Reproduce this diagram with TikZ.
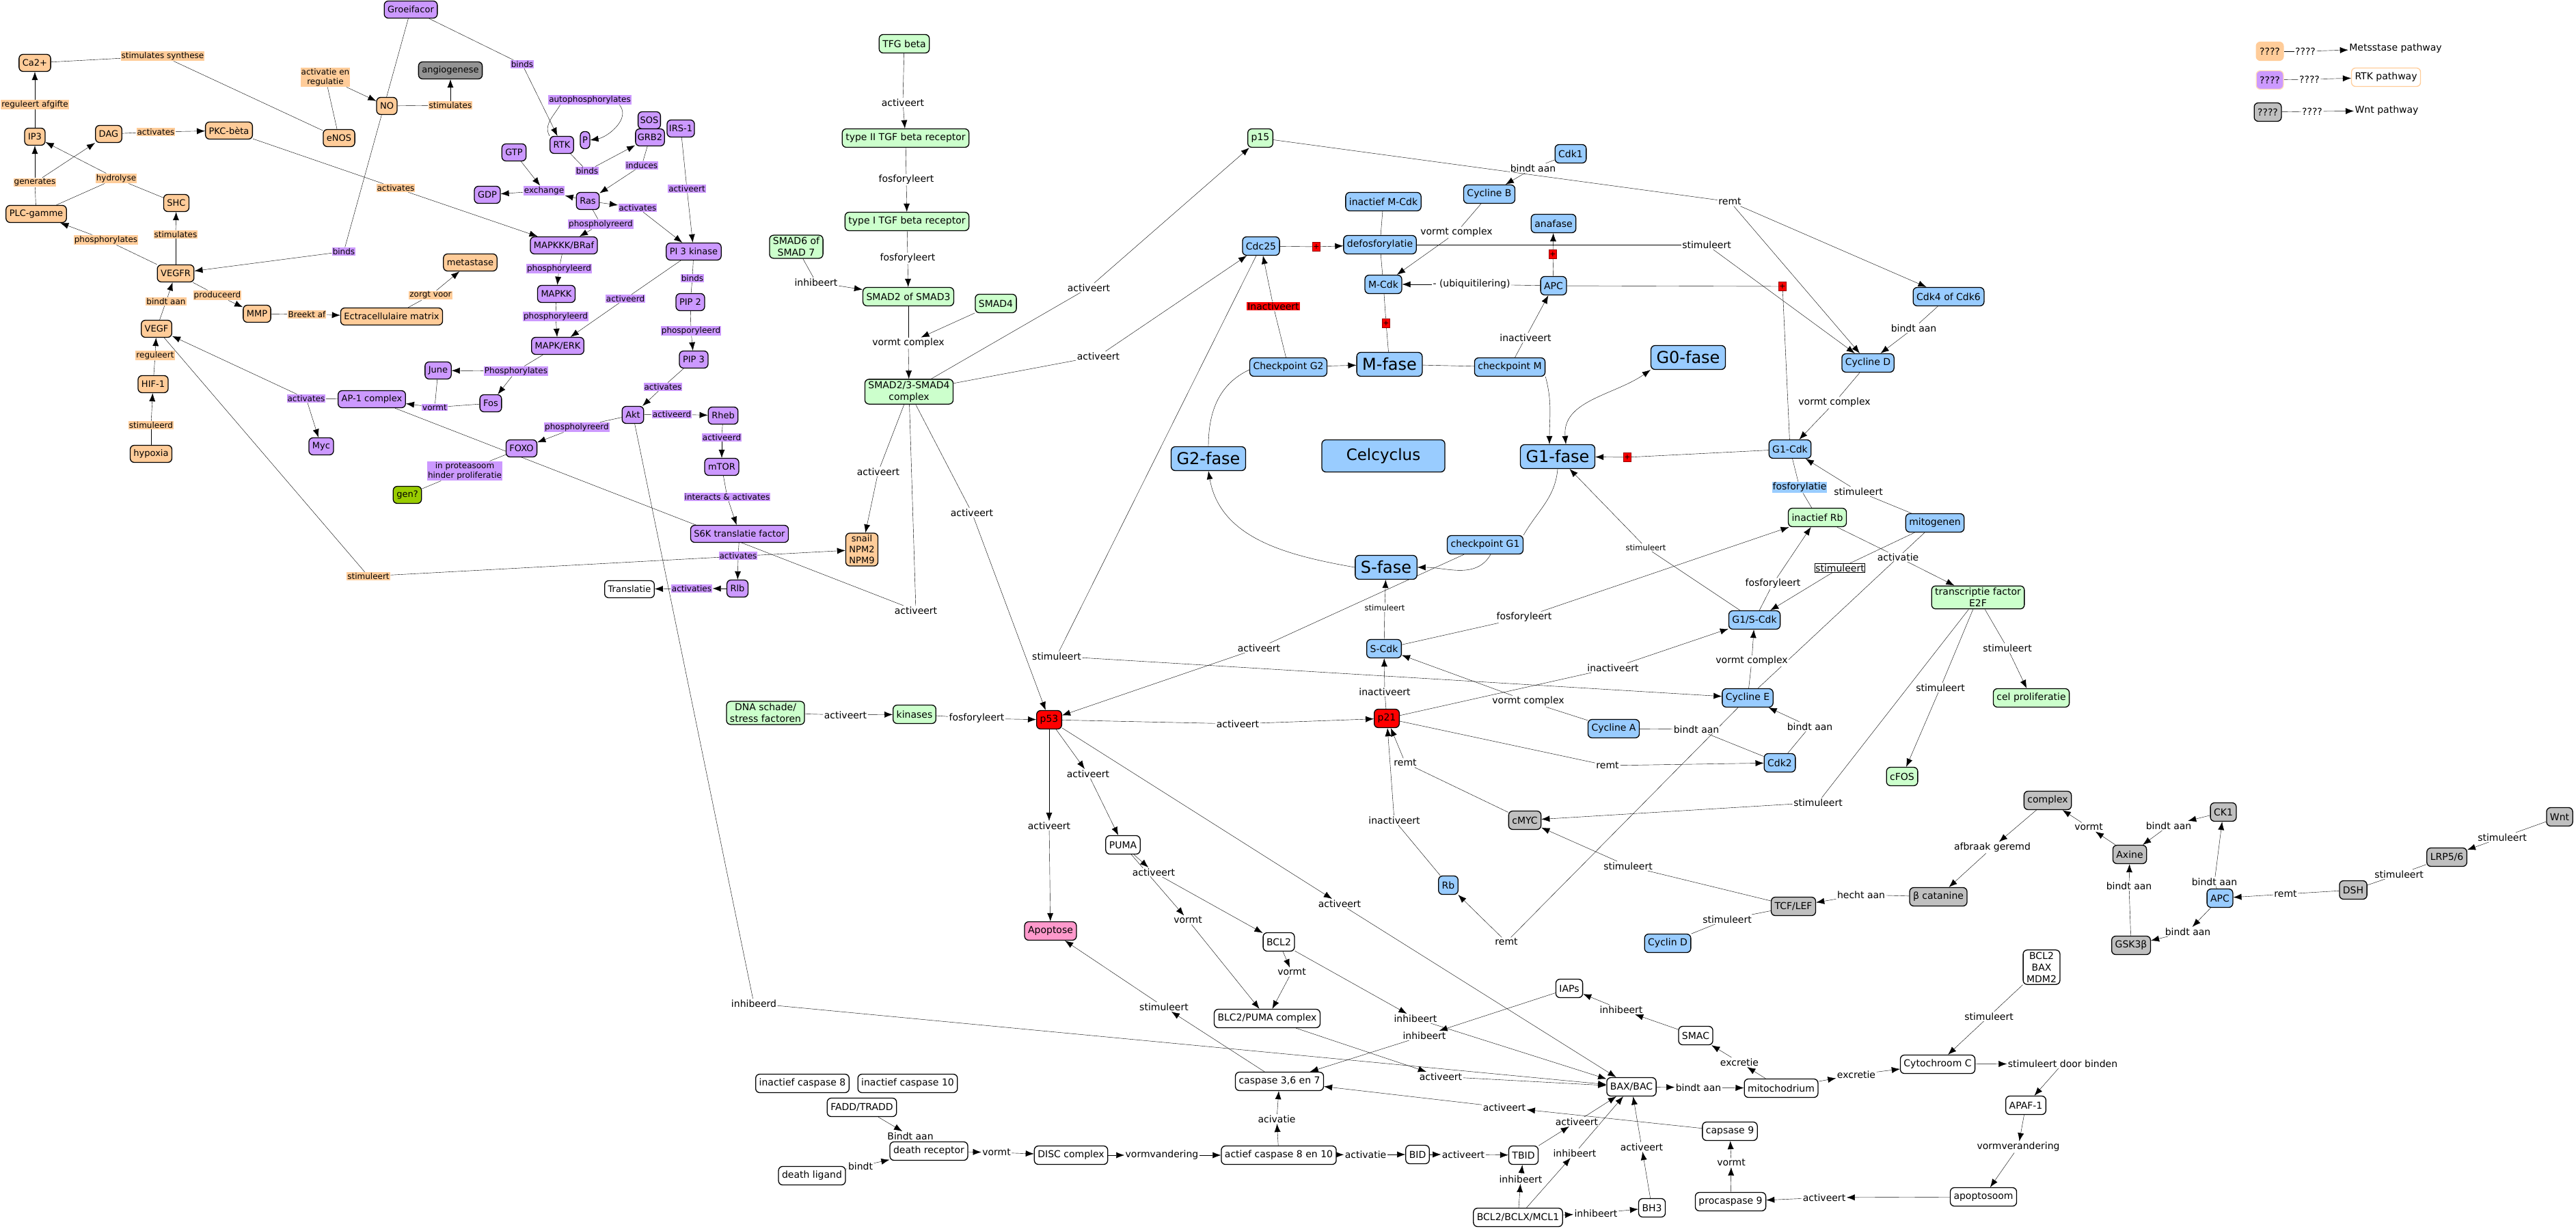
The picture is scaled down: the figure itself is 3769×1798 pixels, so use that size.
\documentclass[tikz,border=0pt]{standalone}
\usepackage{fontspec}
\setmainfont{DejaVu Sans}
\usetikzlibrary{arrows.meta}
\definecolor{corange}{HTML}{FFCC99}
\definecolor{cpurple}{HTML}{CC99FF}
\definecolor{cgreen}{HTML}{CCFFCC}
\definecolor{cblue}{HTML}{99CCFF}
\definecolor{cgray}{HTML}{C0C0C0}
\definecolor{cdgray}{HTML}{939393}
\definecolor{cpink}{HTML}{FF99CC}
\definecolor{colive}{HTML}{99CC00}
\pgfdeclarelayer{background}
\pgfsetlayers{background,main}
\tikzset{cbox/.style={draw, rounded corners=6pt, inner xsep=5pt, inner ysep=3pt, align=center},
  nA/.style={cbox, minimum height=25pt, font=\fontsize{13}{16}\selectfont},
  nB/.style={cbox, minimum height=27pt, font=\fontsize{14}{17}\selectfont},
  orn/.style={nA, fill=corange}, prp/.style={nA, fill=cpurple},
  grn/.style={nB, fill=cgreen}, blu/.style={nB, fill=cblue}, gry/.style={nB, fill=cgray},
  rdn/.style={nB, fill=red}, wht/.style={nB, fill=white}, pnk/.style={nB, fill=cpink},
  fase/.style={cbox, fill=cblue, inner xsep=8pt, minimum height=35pt, font=\fontsize{24}{28}\selectfont}}
\tikzset{lbl/.style={fill=white, inner sep=1pt, align=center, font=\fontsize{14}{16}\selectfont},
  slbl/.style={lbl, font=\fontsize{11.5}{13}\selectfont},
  olbl/.style={fill=corange, inner sep=1pt, align=center, font=\fontsize{12}{14}\selectfont},
  plbl/.style={olbl, fill=cpurple},
  pls/.style={fill=red, draw=red!60!black, line width=0.5pt, inner sep=0pt, minimum width=11pt, minimum height=13pt, font=\fontsize{11}{11}\selectfont},
  arr/.style={-{Latex[length=12pt,width=9pt]}}}
\begin{document}
\begin{tikzpicture}[x=1pt,y=-1pt,line width=1.3pt]
  \useasboundingbox (0,0) rectangle (3769,1798);
  \node[prp] (gf) at (601,14) {Groeifacor};
  \node[orn] (ca) at (51,92) {Ca2+};
  \node[nA,fill=cdgray] (ang) at (659,103) {angiogenese};
  \node[orn] (no) at (566,155) {NO};
  \node[orn] (enos) at (496,202) {eNOS};
  \node[orn] (ip3) at (51,200) {IP3};
  \node[orn] (dag) at (159,196) {DAG};
  \node[orn] (pkc) at (335,191) {PKC-bèta};
  \node[orn] (shc) at (258,297) {SHC};
  \node[orn] (plc) at (53,313) {PLC-gamme};
  \node[orn] (vegfr) at (257,400) {VEGFR};
  \node[orn] (meta) at (688,384) {metastase};
  \node[orn] (mmp) at (376,459) {MMP};
  \node[orn] (ecm) at (573,463) {Ectracellulaire matrix};
  \node[orn] (vegf) at (229,481) {VEGF};
  \node[orn] (hif) at (224,562) {HIF-1};
  \node[orn] (hyp) at (221,664) {hypoxia};
  \node[orn] (snail) at (1261,804) {snail\\NPM2\\NPM9};
  \node[olbl] (l1) at (238,82) {stimulates synthese};
  \node[olbl] (l2) at (476,113) {activatie en\\regulatie};
  \node[olbl] (l3) at (659,154) {stimulates};
  \node[olbl] (l4) at (51,153) {reguleert afgifte};
  \node[olbl] (l5) at (228,193) {activates};
  \node[olbl] (l6) at (51,267) {generates};
  \node[olbl] (l7) at (170,261) {hydrolyse};
  \node[olbl] (l8) at (579,275) {activates};
  \node[olbl] (l9) at (155,351) {phosphorylates};
  \node[olbl] (l10) at (257,343) {stimulates};
  \node[olbl] (l11) at (318,432) {produceerd};
  \node[olbl] (l12) at (243,441) {bindt aan};
  \node[olbl] (l13) at (630,432) {zorgt voor};
  \node[olbl] (l14) at (449,460) {Breekt af};
  \node[olbl] (l15) at (227,520) {reguleert};
  \node[olbl] (l16) at (221,622) {stimuleerd};
  \node[olbl] (l17) at (539,843) {stimuleert};

  \node[prp] (rtk) at (822,212) {RTK};
  \node[prp,inner xsep=3pt] (p) at (856,205) {P};
  \node[prp] (gtp) at (752,223) {GTP};
  \node[prp] (gdp) at (713,285) {GDP};
  \node[prp] (ras) at (860,294) {Ras};
  \node[prp,inner xsep=3pt] (sos) at (950,176) {SOS};
  \node[prp,inner xsep=3pt] (grb) at (951,201) {GRB2};
  \node[prp,inner xsep=3pt] (irs) at (996,188) {IRS-1};
  \node[prp] (pi3k) at (1015,368) {PI 3 kinase};
  \node[prp] (mapkkk) at (825,359) {MAPKKK/BRaf};
  \node[prp] (mapkk) at (814,430) {MAPKK};
  \node[prp] (pip2) at (1010,442) {PIP 2};
  \node[prp] (mapk) at (816,506) {MAPK/ERK};
  \node[prp] (pip3) at (1015,526) {PIP 3};
  \node[prp] (june) at (641,542) {June};
  \node[prp] (ap1) at (544,584) {AP-1 complex};
  \node[prp] (fos) at (718,590) {Fos};
  \node[prp] (akt) at (926,607) {Akt};
  \node[prp] (rheb) at (1058,608) {Rheb};
  \node[prp] (myc) at (470,653) {Myc};
  \node[prp] (foxo) at (763,656) {FOXO};
  \node[prp] (mtor) at (1056,683) {mTOR};
  \node[prp] (s6k) at (1082,781) {S6K translatie factor};
  \node[prp] (rlb) at (1079,861) {Rlb};
  \node[nA,fill=colive] (gen) at (596,724) {gen?};
  \node[nA,fill=white] (transl) at (921,862) {Translatie};
  \node[plbl] (m1) at (764,94) {binds};
  \node[plbl] (m2) at (863,146) {autophosphorylates};
  \node[plbl] (m3) at (859,250) {binds};
  \node[plbl] (m4) at (796,279) {exchange};
  \node[plbl] (m5) at (939,242) {induces};
  \node[plbl] (m6) at (933,304) {activates};
  \node[plbl] (m7) at (879,328) {phospholyreerd};
  \node[plbl] (m8) at (503,368) {binds};
  \node[plbl] (m9) at (818,393) {phosphoryleerd};
  \node[plbl] (m10) at (915,437) {activeerd};
  \node[plbl] (m11) at (1005,276) {activeert};
  \node[plbl] (m12) at (1013,407) {binds};
  \node[plbl] (m13) at (813,463) {phosphoryleerd};
  \node[plbl] (m14) at (1011,484) {phosporyleerd};
  \node[plbl] (m15) at (755,543) {Phosphorylates};
  \node[plbl] (m16) at (970,566) {activates};
  \node[plbl] (m17) at (448,583) {activates};
  \node[plbl] (m18) at (636,596) {vormt};
  \node[plbl] (m19) at (983,606) {activeerd};
  \node[plbl] (m20) at (844,625) {phospholyreerd};
  \node[plbl] (m21) at (1056,640) {activeerd};
  \node[plbl] (m22) at (680,689) {in proteasoom\\hinder proliferatie};
  \node[plbl] (m23) at (1064,727) {interacts \& activates};
  \node[plbl] (m24) at (1080,813) {activates};
  \node[plbl] (m25) at (1012,861) {activaties};

  \node[grn] (tfg) at (1323,64) {TFG beta};
  \node[grn] (t2) at (1325,202) {type II TGF beta receptor};
  \node[grn] (t1) at (1327,324) {type I TGF beta receptor};
  \node[grn] (smad67) at (1165,361) {SMAD6 of\\SMAD 7};
  \node[grn] (smad23) at (1329,434) {SMAD2 of SMAD3};
  \node[grn] (smad4) at (1457,444) {SMAD4};
  \node[grn] (smadc) at (1330,573) {SMAD2/3-SMAD4\\complex};
  \node[grn] (p15) at (1844,202) {p15};
  \node[grn] (dna) at (1120,1043) {DNA schade/\\stress factoren};
  \node[grn] (kin) at (1338,1045) {kinases};
  \node[grn] (rbi) at (2659,757) {inactief Rb};
  \node[grn] (e2f) at (2894,874) {transcriptie factor\\E2F};
  \node[grn] (celp) at (2972,1021) {cel proliferatie};
  \node[grn] (cfos) at (2783,1136) {cFOS};
  \node[lbl] (tl1) at (1321,150) {activeert};
  \node[lbl] (tl2) at (1326,263) {fosforyleert};
  \node[lbl] (tl3) at (1328,378) {fosforyleert};
  \node[lbl] (tl4) at (1194,413) {inhibeert};
  \node[lbl] (tl5) at (1329,502) {vormt complex};
  \node[lbl] (tl6) at (1593,421) {activeert};
  \node[lbl] (tl7) at (1607,521) {activeert};
  \node[lbl] (tl8) at (1285,690) {activeert};
  \node[lbl] (tl9) at (1422,750) {activeert};
  \node[lbl] (tl10) at (1340,893) {activeert};

  \node[blu] (cdk1) at (2298,225) {Cdk1};
  \node[blu] (cycb) at (2179,284) {Cycline B};
  \node[blu] (imcdk) at (2024,295) {inactief M-Cdk};
  \node[blu] (anaf) at (2273,327) {anafase};
  \node[blu] (cdc25) at (1845,360) {Cdc25};
  \node[blu] (defos) at (2019,358) {defosforylatie};
  \node[blu] (mcdk) at (2024,416) {M-Cdk};
  \node[blu] (apc) at (2273,418) {APC};
  \node[blu] (cdk46) at (2851,434) {Cdk4 of Cdk6};
  \node[blu] (cpg2) at (1885,537) {Checkpoint G2};
  \node[fase] (fm) at (2033,533) {M-fase};
  \node[blu] (cpm) at (2209,537) {checkpoint M};
  \node[fase] (fg0) at (2470,523) {G0-fase};
  \node[blu] (cycd) at (2733,531) {Cycline D};
  \node[blu] (g1cdk) at (2619,657) {G1-Cdk};
  \node[fase] (fg2) at (1768,671) {G2-fase};
  \node[fase,minimum width=180pt,minimum height=47pt,font=\fontsize{23}{27}\selectfont] (celc) at (2024,667) {Celcyclus};
  \node[fase] (fg1) at (2279,668) {G1-fase};
  \node[blu] (mitog) at (2831,765) {mitogenen};
  \node[blu] (cpg1) at (2173,797) {checkpoint G1};
  \node[fase] (fs) at (2028,830) {S-fase};
  \node[blu] (g1s) at (2567,907) {G1/S-Cdk};
  \node[blu] (scdk) at (2025,949) {S-Cdk};
  \node[blu] (cyce) at (2557,1021) {Cycline E};
  \node[blu] (cyca) at (2361,1066) {Cycline A};
  \node[blu] (cdk2) at (2604,1116) {Cdk2};
  \node[blu] (rb) at (2119,1295) {Rb};
  \node[blu] (cycd2) at (2440,1380) {Cyclin D};
  \node[rdn] (p53) at (1535,1053) {p53};
  \node[rdn] (p21) at (2029,1051) {p21};
  \node[gry] (cmyc) at (2231,1200) {cMYC};
  \node[gry] (tcf) at (2624,1326) {TCF/LEF};
  \node[lbl] (c1) at (2243,246) {bindt aan};
  \node[lbl] (c2) at (2531,295) {remt};
  \node[lbl] (c3) at (2131,340) {vormt complex};
  \node[lbl] (c4) at (2497,358) {stimuleert};
  \node[lbl] (c5) at (2153,416) {- (ubiquitilering)};
  \node[lbl] (c6) at (2232,494) {inactiveert};
  \node[lbl] (c7) at (2800,480) {bindt aan};
  \node[lbl] (c8) at (2684,589) {vormt complex};
  \node[lbl] (c9) at (2719,719) {stimuleert};
  \node[lbl] (c10) at (2777,815) {activatie};
  \node[lbl] (c11) at (2594,854) {fosforyleert};
  \node[slbl] (c12) at (2408,801) {stimuleert};
  \node[slbl] (c13) at (2026,889) {stimuleert};
  \node[lbl] (c14) at (2230,903) {fosforyleert};
  \node[lbl] (c15) at (1842,948) {activeert};
  \node[lbl] (c16) at (1546,960) {stimuleert};
  \node[lbl] (c17) at (2360,977) {inactiveert};
  \node[lbl] (c18) at (2563,967) {vormt complex};
  \node[lbl] (c19) at (2026,1012) {inactiveert};
  \node[lbl] (c20) at (2236,1026) {vormt complex};
  \node[lbl] (c21) at (2482,1067) {bindt aan};
  \node[lbl] (c22) at (2648,1063) {bindt aan};
  \node[lbl] (c23) at (1811,1059) {activeert};
  \node[lbl] (c24) at (2056,1116) {remt};
  \node[lbl] (c25) at (2352,1120) {remt};
  \node[lbl] (c26) at (2937,948) {stimuleert};
  \node[lbl] (c27) at (2839,1006) {stimuleert};
  \node[lbl] (c28) at (2660,1174) {stimuleert};
  \node[lbl] (c29) at (2040,1200) {inactiveert};
  \node[lbl] (c30) at (2382,1267) {stimuleert};
  \node[lbl] (c31) at (2204,1378) {remt};
  \node[lbl] (c32) at (2527,1345) {stimuleert};
  \node[lbl,fill=red] (ri) at (1863,448) {Inactiveert};
  \node[lbl,fill=cblue] (bf) at (2633,713) {fosforylatie};
  \node[lbl,draw,line width=0.8pt] (bs) at (2692,831) {stimuleert};
  \node[pls] (q1) at (1926,361) {+};
  \node[pls] (q2) at (2028,473) {+};
  \node[pls] (q3) at (2272,372) {+};
  \node[pls] (q4) at (2608,419) {+};
  \node[pls] (q5) at (2381,669) {+};

  \node[gry] (cplx) at (2996,1171) {complex};
  \node[gry] (ck1) at (3253,1188) {CK1};
  \node[gry] (axine) at (3116,1250) {Axine};
  \node[gry] (wnt) at (3745,1195) {Wnt};
  \node[gry] (lrp) at (3580,1254) {LRP5/6};
  \node[gry] (dsh) at (3443,1302) {DSH};
  \node[gry] (bcat) at (2836,1312) {β catanine};
  \node[gry] (gsk) at (3118,1383) {GSK3β};
  \node[blu] (apcw) at (3248,1314) {APC};
  \node[lbl] (w1) at (2915,1240) {afbraak geremd};
  \node[lbl] (w2) at (3056,1210) {vormt};
  \node[lbl] (w3) at (3173,1208) {bindt aan};
  \node[lbl] (w4) at (3661,1225) {stimuleert};
  \node[lbl] (w5) at (3510,1279) {stimuleert};
  \node[lbl] (w6) at (3115,1296) {bindt aan};
  \node[lbl] (w7) at (3240,1290) {bindt aan};
  \node[lbl] (w8) at (2723,1309) {hecht aan};
  \node[lbl] (w9) at (3344,1308) {remt};
  \node[lbl] (w10) at (3201,1363) {bindt aan};

  \node[pnk] (apopt) at (1537,1362) {Apoptose};
  \node[wht] (puma) at (1643,1236) {PUMA};
  \node[wht] (bcl2) at (1871,1378) {BCL2};
  \node[wht] (bpc) at (1854,1490) {BLC2/PUMA complex};
  \node[wht] (iaps) at (2296,1446) {IAPs};
  \node[wht] (smac) at (2481,1515) {SMAC};
  \node[wht] (casp3) at (1872,1582) {caspase 3,6 en 7};
  \node[wht] (ic8) at (1174,1585) {inactief caspase 8};
  \node[wht] (ic10) at (1328,1585) {inactief caspase 10};
  \node[wht] (fadd) at (1261,1620) {FADD/TRADD};
  \node[wht] (baxbac) at (2387,1590) {BAX/BAC};
  \node[wht] (mito) at (2606,1592) {mitochodrium};
  \node[wht] (cytc) at (2835,1557) {Cytochroom C};
  \node[wht] (bbm) at (2987,1415) {BCL2\\BAX\\MDM2};
  \node[wht] (apaf) at (2964,1617) {APAF-1};
  \node[wht] (casp9) at (2531,1655) {capsase 9};
  \node[wht] (drec) at (1359,1684) {death receptor};
  \node[wht] (disc) at (1567,1690) {DISC complex};
  \node[wht] (ac810) at (1871,1690) {actief caspase 8 en 10};
  \node[wht] (bid) at (2074,1689) {BID};
  \node[wht] (tbid) at (2229,1690) {TBID};
  \node[wht] (dlig) at (1188,1720) {death ligand};
  \node[wht] (apos) at (2902,1751) {apoptosoom};
  \node[wht] (proc9) at (2532,1758) {procaspase 9};
  \node[wht] (bh3) at (2417,1767) {BH3};
  \node[wht] (bclx) at (2221,1781) {BCL2/BCLX/MCL1};
  \node[lbl] (a1) at (1237,1046) {activeert};
  \node[lbl] (a2) at (1429,1051) {fosforyleert};
  \node[lbl] (a3) at (1592,1132) {activeert};
  \node[lbl] (a4) at (1535,1208) {activeert};
  \node[lbl] (a5) at (1688,1276) {activeert};
  \node[lbl] (a6) at (1960,1322) {activeert};
  \node[lbl] (a7) at (1738,1346) {vormt};
  \node[lbl] (a8) at (1890,1422) {vormt};
  \node[lbl] (a9) at (1103,1468) {inhibeerd};
  \node[lbl] (a10) at (1703,1473) {stimuleert};
  \node[lbl] (a11) at (2071,1490) {inhibeert};
  \node[lbl] (a12) at (2084,1515) {inhibeert};
  \node[lbl] (a13) at (2372,1477) {inhibeert};
  \node[lbl] (a14) at (2545,1554) {excretie};
  \node[lbl] (a15) at (2108,1575) {activeert};
  \node[lbl] (a16) at (2485,1591) {bindt aan};
  \node[lbl] (a17) at (2716,1572) {excretie};
  \node[lbl] (a18) at (2910,1487) {stimuleert};
  \node[lbl] (a19) at (3018,1556) {stimuleert door binden};
  \node[lbl] (a20) at (2201,1620) {activeert};
  \node[lbl] (a21) at (1868,1637) {acivatie};
  \node[lbl] (a22) at (2307,1641) {activeert};
  \node[lbl] (a23) at (2953,1678) {vormverandering};
  \node[lbl] (a24) at (2402,1678) {activeert};
  \node[lbl] (a25) at (1332,1662) {Bindt aan};
  \node[lbl] (a26) at (1458,1686) {vormt};
  \node[lbl] (a27) at (1700,1690) {vormvandering};
  \node[lbl] (a28) at (1998,1689) {activatie};
  \node[lbl] (a29) at (2141,1689) {activeert};
  \node[lbl] (a30) at (2304,1687) {inhibeert};
  \node[lbl] (a31) at (2533,1701) {vormt};
  \node[lbl] (a32) at (2225,1725) {inhibeert};
  \node[lbl] (a33) at (2669,1752) {activeert};
  \node[lbl] (a34) at (2335,1775) {inhibeert};
  \node[lbl] (a35) at (1259,1706) {bindt};

  \node[nB,fill=corange,draw=corange] (lg1) at (3321,75) {????};
  \node[nB,fill=cpurple,draw=corange!70] (lg2) at (3321,117) {????};
  \node[gry] (lg3) at (3318,164) {????};
  \node[lbl] (lgl1) at (3373,75) {????};
  \node[lbl] (lgl2) at (3379,116) {????};
  \node[lbl] (lgl3) at (3383,163) {????};
  \node[lbl] (lgt1) at (3505,71) {Metsstase pathway};
  \node[nB,fill=white,draw=corange] (lgt2) at (3491,113) {RTK pathway};
  \node[lbl] (lgt3) at (3492,162) {Wnt pathway};

  \begin{pgfonlayer}{background}
  \draw (ip3) edge (l4) (l4) edge[arr] (ca)
  (ca) edge (l1) (l1) edge (enos)
  (enos) edge (l2) (l2) edge[arr] (no)
  (no) edge (l3) (l3) edge[arr] (ang)
  (gf) edge (m8) (m8) edge[arr] (vegfr)
  (gf) edge (m1) (m1) edge[arr] (rtk)
  (dag) edge (l5) (l5) edge[arr] (pkc)
  (plc) edge (l6) (l6) edge[arr] (ip3) (l6) edge[arr] (dag)
  (plc) edge (l7) (shc) edge (l7) (l7) edge[arr] (ip3)
  (vegfr) edge (l10) (l10) edge[arr] (shc)
  (vegfr) edge (l9) (l9) edge[arr] (plc)
  (pkc) edge (l8) (l8) edge[arr] (mapkkk)
  (vegf) edge (l12) (l12) edge[arr] (vegfr)
  (vegfr) edge (l11) (l11) edge[arr] (mmp)
  (mmp) edge (l14) (l14) edge[arr] (ecm)
  (ecm) edge (l13) (l13) edge[arr] (meta)
  (hif) edge (l15) (l15) edge[arr] (vegf)
  (hyp) edge (l16) (l16) edge[arr] (hif)
  (vegf) edge (l17) (l17) edge[arr] (snail);
  \draw (rtk.north west) to[out=120,in=-120] ([xshift=18pt]m2.south west);
  \draw[arr] ([xshift=-18pt]m2.south east) to[out=-50,in=10] (p.east);
  \draw (rtk) edge (m3) (m3) edge[arr] (grb)
  (gtp) edge[arr] (m4) (ras) edge[arr] (m4) (m4) edge[arr] (gdp)
  (grb) edge (m5) (m5) edge[arr] (ras)
  (ras) edge[arr] (m6) (m6) edge[arr] (pi3k)
  (ras) edge (m7) (m7) edge[arr] (mapkkk)
  (mapkkk) edge (m9) (m9) edge[arr] (mapkk)
  (mapkk) edge (m13) (m13) edge[arr] (mapk)
  (pi3k) edge (m10) (m10) edge[arr] (mapk)
  (irs) edge (m11) (m11) edge[arr] (pi3k)
  (pi3k) edge (m12) (m12) edge (pip2)
  (pip2) edge (m14) (m14) edge[arr] (pip3)
  (pip3) edge (m16) (m16) edge[arr] (akt)
  (mapk) edge (m15) (m15) edge[arr] (june) (m15) edge[arr] (fos)
  (june) edge (m18) (fos) edge (m18) (m18) edge[arr] (ap1)
  (ap1) edge (m17) (m17) edge[arr] (vegf) (m17) edge[arr] (myc)
  (akt) edge (m19) (m19) edge[arr] (rheb)
  (akt) edge (m20) (m20) edge[arr] (foxo)
  (foxo) edge (m22) (m22) edge (gen)
  (rheb) edge (m21) (m21) edge[arr] (mtor)
  (mtor) edge (m23) (m23) edge[arr] (s6k)
  (s6k) edge (m24) (m24) edge[arr] (rlb)
  (rlb) edge[arr] (m25) (m25) edge[arr] (transl)
  (akt) edge (a9) (a9) edge[arr] (baxbac)
  (ap1) edge (tl10) (smadc) edge (tl10);
  \draw (tfg) edge (tl1) (tl1) edge[arr] (t2)
  (t2) edge (tl2) (tl2) edge[arr] (t1)
  (t1) edge (tl3) (tl3) edge[arr] (smad23)
  (smad67) edge (tl4) (tl4) edge[arr] (smad23)
  (smad23) edge (tl5) (smad4) edge[arr] (tl5) (tl5) edge[arr] (smadc)
  (smadc) edge (tl6) (tl6) edge[arr] (p15)
  (smadc) edge (tl7) (tl7) edge[arr] (cdc25)
  (smadc) edge (tl8) (tl8) edge[arr] (snail)
  (smadc) edge (tl9) (tl9) edge[arr] (p53)
  (dna) edge (a1) (a1) edge[arr] (kin)
  (kin) edge (a2) (a2) edge[arr] (p53);
  \draw (p15) edge (c2) (c2) edge[arr] (cycd) (c2) edge[arr] (cdk46)
  (cdk1) edge (c1) (c1) edge[arr] (cycb)
  (cycb) edge (c3) (c3) edge[arr] (mcdk)
  (imcdk) edge (defos) (defos) edge (mcdk)
  (cdc25) edge (q1) (q1) edge[arr] (defos)
  (defos) edge (c4) (c4) edge[arr] (cycd)
  (apc) edge (c5) (c5) edge[arr] (mcdk)
  (apc) edge (q3) (q3) edge[arr] (anaf)
  (apc) edge (q4) (q4) edge (g1cdk)
  (mcdk) edge (q2) (q2) edge (fm)
  (cpg2) edge (ri) (ri) edge[arr] (cdc25)
  (cpg2) edge[arr] (fm)
  (fm) edge (cpm)
  (cpm) edge (c6) (c6) edge[arr] (apc)
  (cdk46) edge (c7) (c7) edge[arr] (cycd)
  (cycd) edge (c8) (c8) edge[arr] (g1cdk)
  (g1cdk) edge (q5) (q5) edge[arr] (fg1)
  (g1cdk) edge (bf) (bf) edge (rbi)
  (mitog) edge (c9) (c9) edge[arr] (g1cdk)
  (rbi) edge (c10) (c10) edge[arr] (e2f)
  (mitog) edge (bs) (bs) edge[arr] (g1s)
  (mitog) edge (cyce)
  (g1s) edge (c11) (c11) edge[arr] (rbi)
  (g1s) edge (c12) (c12) edge[arr] (fg1)
  (scdk) edge (c13) (c13) edge[arr] (fs)
  (scdk) edge (c14) (c14) edge[arr] (rbi)
  (cpg1) edge (c15) (c15) edge[arr] (p53)
  (cdc25) edge (c16) (c16) edge[arr] (cyce)
  (p21) edge (c17) (c17) edge[arr] (g1s)
  (cyce) edge (c18) (c18) edge[arr] (g1s)
  (p21) edge (c19) (c19) edge[arr] (scdk)
  (cyca) edge (c20) (c20) edge[arr] (scdk)
  (cyca) edge (c21) (c21) edge (cdk2)
  (cdk2) edge (c22) (c22) edge[arr] (cyce)
  (p53) edge (c23) (c23) edge[arr] (p21)
  (cmyc) edge (c24) (c24) edge[arr] (p21)
  (p21) edge (c25) (c25) edge[arr] (cdk2)
  (e2f) edge (c26) (c26) edge[arr] (celp)
  (e2f) edge (c27) (c27) edge[arr] (cfos)
  (e2f) edge (c28) (c28) edge[arr] (cmyc)
  (rb) edge (c29) (c29) edge[arr] (p21)
  (tcf) edge (c30) (c30) edge[arr] (cmyc)
  (cyce) edge (c31) (c31) edge[arr] (rb)
  (tcf) edge (c32) (c32) edge (cycd2);
  \draw[arr] (cpm.south east) to[out=-75,in=90] ([xshift=-12pt]fg1.north);
  \draw[{Latex[length=12pt,width=9pt]}-{Latex[length=12pt,width=9pt]}] ([xshift=12pt]fg1.north) to[out=95,in=-145] (fg0.south west);
  \draw (fg1.south) to[out=-95,in=60] (cpg1.north east);
  \draw[arr] ([xshift=8pt]cpg1.south) to[out=-120,in=0] (fs.east);
  \draw[arr] (fs.west) to[out=170,in=-80] (fg2.south);
  \draw (fg2.north) to[out=90,in=-155] ([yshift=-4pt]cpg2.west);
  \draw (cplx) edge[arr] (w1) (w1) edge[arr] (bcat)
  (axine) edge[arr] (w2) (w2) edge[arr] (cplx)
  (ck1) edge[arr] (w3) (w3) edge[arr] (axine)
  (wnt) edge (w4) (w4) edge[arr] (lrp)
  (lrp) edge (w5) (w5) edge (dsh)
  (gsk) edge (w6) (w6) edge[arr] (axine)
  (apcw) edge (w7) (w7) edge[arr] (ck1)
  (bcat) edge (w8) (w8) edge[arr] (tcf)
  (dsh) edge (w9) (w9) edge[arr] (apcw)
  (apcw) edge[arr] (w10) (w10) edge[arr] (gsk);
  \draw (p53) edge[arr] (a4) (a4) edge[arr] (apopt)
  (p53) edge[arr] (a3) (a3) edge[arr] (puma)
  (p53) edge[arr] (a6) (a6) edge[arr] (baxbac)
  (puma) edge[arr] (a5) (a5) edge[arr] (bcl2)
  (puma) edge[arr] (a7) (a7) edge[arr] (bpc)
  (bcl2) edge[arr] (a8) (a8) edge[arr] (bpc)
  (bcl2) edge[arr] (a11) (a11) edge[arr] (baxbac)
  (bpc) edge[arr] (a15) (a15) edge[arr] (baxbac)
  (casp3) edge[arr] (a10) (a10) edge[arr] (apopt)
  (iaps) edge[arr] (a12) (a12) edge[arr] (casp3)
  (smac) edge[arr] (a13) (a13) edge[arr] (iaps)
  (mito) edge[arr] (a14) (a14) edge[arr] (smac)
  (baxbac) edge[arr] (a16) (a16) edge[arr] (mito)
  (mito) edge[arr] (a17) (a17) edge[arr] (cytc)
  (bbm) edge (a18) (a18) edge[arr] (cytc)
  (cytc) edge[arr] (a19) (a19) edge[arr] (apaf)
  (apaf) edge[arr] (a23) (a23) edge[arr] (apos)
  (apos) edge[arr] (a33) (a33) edge[arr] (proc9)
  (proc9) edge[arr] (a31) (a31) edge[arr] (casp9)
  (casp9) edge[arr] (a20) (a20) edge[arr] (casp3)
  (ac810) edge[arr] (a21) (a21) edge[arr] (casp3)
  (ac810) edge[arr] (a28) (a28) edge[arr] (bid)
  (bid) edge[arr] (a29) (a29) edge[arr] (tbid)
  (tbid) edge[arr] (a22) (a22) edge[arr] (baxbac)
  (bclx) edge[arr] (a32) (a32) edge[arr] (tbid)
  (bclx) edge[arr] (a30) (a30) edge[arr] (baxbac)
  (bclx) edge[arr] (a34) (a34) edge[arr] (bh3)
  (bh3) edge[arr] (a24) (a24) edge[arr] (baxbac)
  (dlig) edge (a35) (a35) edge[arr] (drec)
  (fadd) edge[arr] (a25)
  (drec) edge[arr] (a26) (a26) edge[arr] (disc)
  (disc) edge[arr] (a27) (a27) edge[arr] (ac810);
  \draw (lg1) edge (lgl1) (lgl1) edge[arr] (lgt1)
  (lg2) edge (lgl2) (lgl2) edge[arr] (lgt2)
  (lg3) edge (lgl3) (lgl3) edge[arr] (lgt3);
  \end{pgfonlayer}
\end{tikzpicture}
\end{document}
